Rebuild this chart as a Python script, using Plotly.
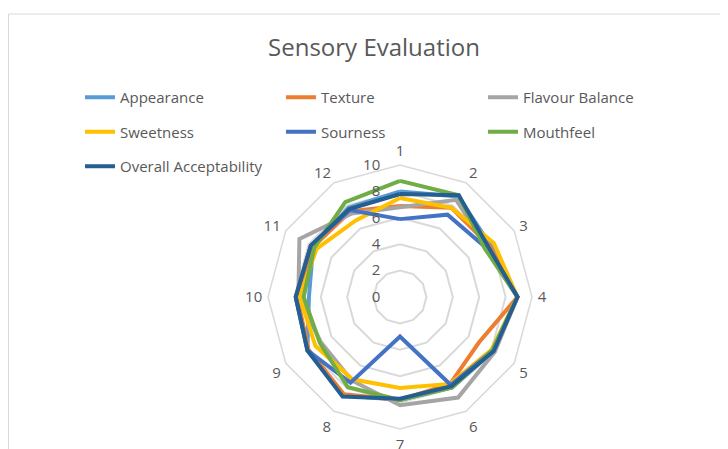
import plotly.graph_objects as go

categories = [str(i) for i in range(1, 13)]

appearance = [8.0, 8.8, 7.9, 8.9, 8.2, 7.9, 7.8, 8.6, 8.1, 6.9, 7.6, 7.8]
texture = [6.9, 7.8, 7.8, 8.9, 6.9, 7.6, 7.8, 8.5, 8.0, 7.8, 7.6, 7.5]
flavour = [6.8, 8.5, 7.6, 8.9, 8.3, 8.8, 8.2, 7.3, 6.9, 7.7, 8.8, 7.3]
sweetness = [7.5, 7.8, 8.2, 8.9, 8.0, 7.6, 6.9, 7.2, 7.4, 7.6, 7.3, 6.7]
sourness = [5.9, 7.2, 7.5, 8.9, 8.1, 7.7, 3.0, 7.5, 8.1, 7.9, 7.8, 7.6]
mouthfeel = [8.8, 8.9, 7.4, 8.9, 8.1, 7.9, 7.8, 7.9, 7.0, 7.3, 7.5, 8.3]
overall = [7.8, 8.9, 7.7, 8.9, 8.2, 7.8, 7.7, 8.7, 8.1, 7.9, 7.8, 7.7]

radial_ticks = [0, 2, 4, 6, 8, 10]

series = [
    ("Appearance", appearance, "#5B9BD5", "legend"),
    ("Texture", texture, "#ED7D31", "legend2"),
    ("Flavour Balance", flavour, "#A5A5A5", "legend3"),
    ("Sweetness", sweetness, "#FFC000", "legend"),
    ("Sourness", sourness, "#4472C4", "legend2"),
    ("Mouthfeel", mouthfeel, "#70AD47", "legend3"),
    ("Overall Acceptability", overall, "#255E91", "legend"),
]

FONT = "Open Sans"
TXT = "#595959"

fig = go.Figure()
for name, vals, color, lg in series:
    fig.add_trace(go.Scatterpolar(
        r=vals + vals[:1],
        theta=categories + categories[:1],
        mode="lines",
        name=name,
        line=dict(color=color, width=4),
        legend=lg,
        legendgroup=name,
    ))

W, H = 728, 449
# the page body adds an 8px offset; positions below are in figure pixels
OFF = 8
cx, cy, R = 400 - OFF, 297 - OFF, 132

legend_common = dict(
    orientation="v",
    font=dict(family=FONT, size=15, color=TXT),
    bgcolor="rgba(0,0,0,0)",
    tracegroupgap=12,
    xanchor="left",
    yanchor="top",
    itemclick=False,
)
ly = 1 - 73 / H

fig.update_layout(
    width=W, height=H,
    margin=dict(l=0, r=0, t=0, b=0),
    paper_bgcolor="white",
    plot_bgcolor="white",
    title=dict(text="Sensory Evaluation", x=(374 - OFF) / W, xanchor="center",
               y=1 - (48 - OFF) / H, yanchor="middle",
               font=dict(family=FONT, size=24, color=TXT)),
    polar=dict(
        domain=dict(x=[(cx - R) / W, (cx + R) / W], y=[(H - cy - R) / H, (H - cy + R) / H]),
        bgcolor="white",
        gridshape="linear",
        angularaxis=dict(
            rotation=90, direction="clockwise",
            categoryorder="array", categoryarray=categories,
            showgrid=False, showline=True, linecolor="#D9D9D9", linewidth=1.5,
            ticks="outside", ticklen=2, tickcolor="rgba(0,0,0,0)",
            tickfont=dict(family=FONT, size=15, color=TXT),
        ),
        radialaxis=dict(
            range=[0, 10], tickvals=radial_ticks, angle=90,
            side="counterclockwise", tickangle=90,
            showline=False, ticks="outside", ticklen=14, tickcolor="rgba(0,0,0,0)",
            gridcolor="#D9D9D9", gridwidth=1.5,
            tickfont=dict(family=FONT, size=15, color=TXT),
        ),
    ),
    legend=dict(x=72 / W, y=ly, **legend_common),
    legend2=dict(x=273 / W, y=ly, **legend_common),
    legend3=dict(x=475 / W, y=ly, **legend_common),
    shapes=[dict(type="rect", xref="paper", yref="paper",
                 x0=0.5 / W, x1=1.05, y0=-0.05, y1=1 - (14 - OFF) / H,
                 line=dict(color="#D9D9D9", width=1), fillcolor="rgba(0,0,0,0)", layer="below")],
)

fig.write_html("out.html")
